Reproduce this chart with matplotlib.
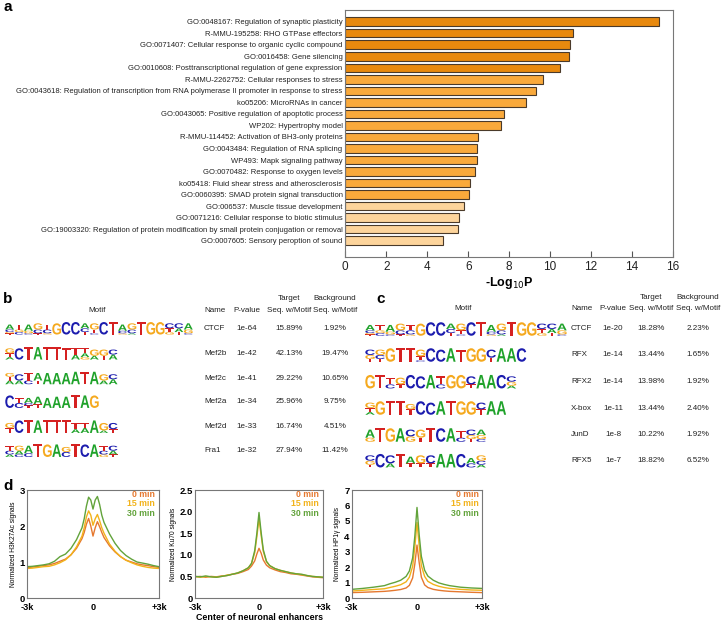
import matplotlib
matplotlib.use('Agg')
import matplotlib.pyplot as plt
from matplotlib.font_manager import FontProperties
from matplotlib.textpath import TextPath
from matplotlib.patches import PathPatch
from matplotlib.transforms import Affine2D

SANS = 'Liberation Sans'

# ---------------- DATA ----------------
# Panel a: enrichment terms
go_terms = [
    "GO:0048167: Regulation of synaptic plasticity",
    "R-MMU-195258: RHO GTPase effectors",
    "GO:0071407: Cellular response to organic cyclic compound",
    "GO:0016458: Gene silencing",
    "GO:0010608: Posttranscriptional regulation of gene expression",
    "R-MMU-2262752: Cellular responses to stress",
    "GO:0043618: Regulation of transcription from RNA polymerase II promoter in response to stress",
    "ko05206: MicroRNAs in cancer",
    "GO:0043065: Positive regulation of apoptotic process",
    "WP202: Hypertrophy model",
    "R-MMU-114452: Activation of BH3-only proteins",
    "GO:0043484: Regulation of RNA splicing",
    "WP493: Mapk signaling pathway",
    "GO:0070482: Response to oxygen levels",
    "ko05418: Fluid shear stress and atherosclerosis",
    "GO:0060395: SMAD protein signal transduction",
    "GO:006537: Muscle tissue development",
    "GO:0071216: Cellular response to biotic stimulus",
    "GO:19003320: Regulation of protein modification by small protein conjugation or removal",
    "GO:0007605: Sensory peroption of sound",
]
neg_log10_p = [15.32, 11.12, 10.98, 10.91, 10.49, 9.66, 9.32, 8.81, 7.77, 7.61,
               6.49, 6.42, 6.42, 6.34, 6.10, 6.04, 5.81, 5.53, 5.51, 4.78]
term_tier = [0] * 5 + [1] * 11 + [2] * 4
a_xticks = [0, 2, 4, 6, 8, 10, 12, 14, 16]

# Panel b: motif table (columns: letters top->bottom with heights in tenths)
b_motifs = [
    ["A4C2G1T1", "T4G2C2", "A5G2C1", "G5C3T1", "T4C3G1", "G9", "C10", "C10", "A4C3T2", "G5T3C1",
     "C10", "T10", "A5C2G1", "G5C3A1", "T10", "G10", "G10", "C4T3G2", "C4A3T2", "A5G3C1"],
    ["G4T3A2", "C9", "T10", "A10", "T10", "T10", "T9", "T5A4", "T4A3G2", "G5A3", "G5T3", "C4A4"],
    ["G3T3A3", "C5A3", "T6C3", "A6T3", "A9", "A9", "A9", "A10", "T10", "A10", "G5A3", "C4A4"],
    ["C10", "T4C4", "A4C2T2", "A6T3", "A8", "A9", "A9", "T10", "A10", "G10"],
    ["G4T4", "C10", "T10", "A10", "T10", "T10", "T10", "T5A3", "T4A4", "A10", "G6A2", "C5T3"],
    ["T4C3A2", "G4A3C2", "A6C3", "T10", "G10", "A10", "G4C4", "T10", "C10", "A10", "T4C3G2", "C4A3T2"],
]
b_names = ["CTCF", "Mef2b", "Mef2c", "Mef2a", "Mef2d", "Fra1"]
b_pvalues = ["1e-64", "1e-42", "1e-41", "1e-34", "1e-33", "1e-32"]
b_target = ["15.89%", "42.13%", "29.22%", "25.96%", "16.74%", "27.94%"]
b_background = ["1.92%", "19.47%", "10.65%", "9.75%", "4.51%", "11.42%"]

# Panel c: motif table
c_motifs = [
    ["A4C2G1T1", "T4G2C2", "A5G2C1", "G5C3T1", "T4C3G1", "G9", "C10", "C10", "A4C3T2", "G5T3C1",
     "C10", "T10", "A5C2G1", "G5C3A1", "T10", "G10", "G10", "C4T3G2", "C4A3T2", "A5G3C1"],
    ["C4G3T2", "G4C3T2", "G10", "T10", "T10", "G5T3C1", "C10", "C9", "A10", "T9", "G10", "G10",
     "C6T3", "A10", "A10", "C10"],
    ["G10", "T10", "T5C3", "G5T3", "C10", "C9", "A10", "T6C3", "G10", "G10", "C6T3", "A10", "A10",
     "C10", "C4G3A2"],
    ["G4T3A2", "G10", "T10", "T10", "G4T4", "C10", "C9", "A10", "T10", "G10", "G10", "C5T4", "A10", "A10"],
    ["A6G3", "T10", "G10", "A10", "C5G4", "G6T3", "T10", "C10", "A10", "T5C3", "C4G3T2", "A4G3C2"],
    ["C4G3T2", "C10", "C6A3", "T10", "A5T3", "G6T3", "C6T3", "A10", "A10", "C10", "A4C3", "G4C3A2"],
]
c_names = ["CTCF", "RFX", "RFX2", "X-box", "JunD", "RFX5"]
c_pvalues = ["1e-20", "1e-14", "1e-14", "1e-11", "1e-8", "1e-7"]
c_target = ["18.28%", "13.44%", "13.98%", "13.44%", "10.22%", "18.82%"]
c_background = ["2.23%", "1.65%", "1.92%", "2.40%", "1.92%", "6.52%"]

# Panel d: aggregate profiles (x in kb from enhancer center)
time_labels = ["0 min", "15 min", "30 min"]

h3_x = [-3, -2.75, -2.5, -2.25, -2, -1.75, -1.5, -1.25, -1, -0.75, -0.5, -0.4, -0.3, -0.2, -0.1, 0,
        0.1, 0.2, 0.3, 0.4, 0.5, 0.75, 1, 1.25, 1.5, 1.75, 2, 2.25, 2.5, 2.75, 3]
h3_0 = [0.84, 0.86, 0.88, 0.90, 0.92, 0.96, 1.02, 1.08, 1.20, 1.38, 1.65, 1.82, 2.05, 2.21, 2.00, 1.72,
        1.95, 2.12, 1.98, 1.82, 1.68, 1.45, 1.28, 1.15, 1.05, 1.00, 0.95, 0.92, 0.90, 0.87, 0.85]
h3_15 = [0.82, 0.83, 0.85, 0.87, 0.88, 0.92, 0.98, 1.06, 1.20, 1.42, 1.72, 1.95, 2.25, 2.42, 2.30, 2.02,
         2.20, 2.32, 2.15, 1.95, 1.80, 1.50, 1.30, 1.15, 1.05, 0.98, 0.92, 0.88, 0.85, 0.83, 0.82]
h3_30 = [0.87, 0.88, 0.90, 0.92, 0.95, 1.02, 1.15, 1.22, 1.38, 1.62, 1.95, 2.20, 2.55, 2.80, 2.72, 2.47,
         2.72, 2.82, 2.60, 2.30, 2.10, 1.78, 1.52, 1.32, 1.18, 1.08, 1.00, 0.97, 0.94, 0.90, 0.87]

ku_x = [-3, -2.75, -2.5, -2.25, -2, -1.75, -1.5, -1.25, -1, -0.75, -0.5, -0.35, -0.2, -0.1, 0,
        0.1, 0.2, 0.35, 0.5, 0.75, 1, 1.25, 1.5, 1.75, 2, 2.25, 2.5, 2.75, 3]
ku_0 = [0.49, 0.50, 0.48, 0.50, 0.49, 0.51, 0.52, 0.55, 0.57, 0.61, 0.66, 0.74, 0.86, 1.02, 1.15,
        1.04, 0.88, 0.76, 0.70, 0.65, 0.61, 0.59, 0.56, 0.55, 0.53, 0.51, 0.49, 0.48, 0.47]
ku_15 = [0.50, 0.48, 0.50, 0.49, 0.48, 0.50, 0.53, 0.55, 0.58, 0.63, 0.70, 0.80, 1.05, 1.42, 1.84,
         1.45, 1.08, 0.84, 0.75, 0.68, 0.64, 0.61, 0.58, 0.56, 0.54, 0.52, 0.50, 0.49, 0.48]
ku_30 = [0.50, 0.49, 0.51, 0.49, 0.48, 0.50, 0.52, 0.55, 0.58, 0.63, 0.70, 0.80, 1.10, 1.50, 1.98,
         1.52, 1.12, 0.85, 0.75, 0.68, 0.64, 0.61, 0.58, 0.56, 0.55, 0.52, 0.50, 0.49, 0.48]

hp_x = [-3, -2.5, -2, -1.5, -1.25, -1, -0.75, -0.5, -0.35, -0.2, -0.1, 0, 0.1, 0.2, 0.35, 0.5, 0.75,
        1, 1.25, 1.5, 2, 2.5, 3]
hp_0 = [0.35, 0.37, 0.40, 0.43, 0.46, 0.50, 0.55, 0.65, 0.82, 1.30, 2.20, 3.43, 2.30, 1.35, 0.85, 0.68,
        0.56, 0.50, 0.46, 0.43, 0.40, 0.37, 0.35]
hp_15 = [0.45, 0.50, 0.55, 0.60, 0.68, 0.76, 0.86, 1.05, 1.35, 2.05, 3.30, 4.90, 3.40, 2.10, 1.40, 1.08,
         0.88, 0.76, 0.68, 0.62, 0.56, 0.52, 0.50]
hp_30 = [0.56, 0.62, 0.70, 0.80, 0.92, 1.02, 1.15, 1.40, 1.75, 2.60, 4.00, 5.87, 4.10, 2.70, 1.80, 1.42,
         1.15, 0.98, 0.88, 0.80, 0.70, 0.65, 0.62]

# ---------------- STYLE ----------------
W, H = 721, 621
tier_colors = ['#E8890E', '#F9A93B', '#FDD49B']
bar_edge = '#4a3a2a'
time_colors = ['#E5782F', '#F2B31B', '#62A33B']
letter_colors = {'A': '#1FA22A', 'C': '#1C1CAE', 'G': '#F5A91E', 'T': '#D52121'}
text_color = '#222222'

fig = plt.figure(figsize=(W / 100, H / 100), dpi=100)
renderer = fig.canvas.get_renderer()


def fit_size(s, target_px, weight='normal'):
    t = fig.text(0, 0, s, fontsize=10, family=SANS, fontweight=weight)
    w = t.get_window_extent(renderer).width
    t.remove()
    return 10.0 * target_px / w


def fig_rect(left, top, right, bottom):
    return [left / W, 1 - bottom / H, (right - left) / W, (bottom - top) / H]


# ---------------- Panel a ----------------
label_fs = fit_size(max(go_terms, key=len), 328)
axa = fig.add_axes(fig_rect(345.3, 10, 673, 257))
ypos = list(range(len(go_terms)))
axa.barh(ypos, neg_log10_p, height=0.74, color=[tier_colors[t] for t in term_tier],
         edgecolor=bar_edge, linewidth=0.8)
axa.set_xlim(0, 16)
axa.set_ylim(len(go_terms) - 1 + 1.41, -1.01)
axa.set_yticks(ypos)
axa.set_yticklabels(go_terms, fontsize=label_fs, family=SANS, color=text_color)
axa.tick_params(axis='y', length=0, pad=2)
axa.set_xticks(a_xticks)
axa.set_xticklabels([str(v) for v in a_xticks], fontsize=8.5, family=SANS, color=text_color)
axa.tick_params(axis='x', direction='in', length=4, width=0.8, color='#555555', pad=3)
for s in axa.spines.values():
    s.set_color('#777777')
    s.set_linewidth(0.8)
axa.set_xlabel('-Log$_{10}$P', fontsize=9, fontweight='bold', family=SANS, labelpad=1)

# ---------------- overlay for tables ----------------
ov = fig.add_axes([0, 0, 1, 1])
ov.set_xlim(0, W)
ov.set_ylim(H, 0)
ov.axis('off')
ov.patch.set_alpha(0)

logo_font = FontProperties(family=SANS, weight='bold')
_glyphs = {}


def glyph(ch):
    if ch not in _glyphs:
        tp = TextPath((0, 0), ch, size=1, prop=logo_font)
        _glyphs[ch] = (tp, tp.get_extents())
    return _glyphs[ch]


def parse_col(spec):
    out = []
    i = 0
    while i < len(spec):
        ch = spec[i]
        j = i + 1
        while j < len(spec) and spec[j].isdigit():
            j += 1
        out.append((ch, int(spec[i + 1:j]) / 10.0))
        i = j
    return out


def draw_logo(ax, cols, x0, ybase, colw, full_h):
    for k, spec in enumerate(cols):
        yb = ybase
        for ch, h in parse_col(spec)[::-1]:
            hh = h * full_h
            tp, ext = glyph(ch)
            tr = (Affine2D().translate(-ext.x0, -ext.y0)
                  .scale(colw * 0.94 / ext.width, -hh / ext.height)
                  .translate(x0 + k * colw + colw * 0.03, yb))
            ax.add_patch(PathPatch(tr.transform_path(tp), facecolor=letter_colors[ch],
                                   edgecolor='none'))
            yb -= hh


table_fs = fit_size('Seq. w/Motif', 44)


def draw_table(ax, motifs, names, pvals, targ, back, logo_x, colw, full_h, rows_y,
               name_x, p_x, t_x, b_x, motif_hx, hy1, hy2):
    kw = dict(family=SANS, fontsize=table_fs, color=text_color, va='center')
    ax.text(motif_hx, hy2, 'Motif', ha='center', **kw)
    ax.text(name_x, hy2, 'Name', ha='left', **kw)
    ax.text(p_x, hy2, 'P-value', ha='center', **kw)
    ax.text(t_x, hy1, 'Target', ha='center', **kw)
    ax.text(t_x, hy2, 'Seq. w/Motif', ha='center', **kw)
    ax.text(b_x, hy1, 'Background', ha='center', **kw)
    ax.text(b_x, hy2, 'Seq. w/Motif', ha='center', **kw)
    for i, y in enumerate(rows_y):
        draw_logo(ax, motifs[i], logo_x, y + full_h / 2, colw, full_h)
        ax.text(name_x, y, names[i], ha='left', **kw)
        ax.text(p_x, y, pvals[i], ha='center', **kw)
        ax.text(t_x, y, targ[i], ha='center', **kw)
        ax.text(b_x, y, back[i], ha='center', **kw)


draw_table(ov, b_motifs, b_names, b_pvalues, b_target, b_background,
           logo_x=5, colw=9.4, full_h=12.5,
           rows_y=[328.3, 353.3, 378, 401.7, 426.7, 450.7],
           name_x=204, p_x=247, t_x=289, b_x=335, motif_hx=97, hy1=299, hy2=310)
draw_table(ov, c_motifs, c_names, c_pvalues, c_target, c_background,
           logo_x=365, colw=10.1, full_h=13.5,
           rows_y=[329, 355, 381.7, 408, 435, 460.7],
           name_x=571, p_x=613, t_x=651, b_x=698, motif_hx=463, hy1=297.5, hy2=308)

# panel letters
for lab, x, y in [('a', 3, 7), ('b', 3, 299), ('c', 376, 299), ('d', 3, 486)]:
    ov.text(x, y, lab, fontsize=11, fontweight='bold', family=SANS, ha='left', va='center')

# ---------------- Panel d ----------------
ylab_fs = fit_size('Normalized H3K27Ac signals', 87)
profiles = [
    (fig_rect(27, 490, 159, 598), h3_x, [h3_0, h3_15, h3_30], (0, 3), [0, 1, 2, 3],
     ['0', '1', '2', '3'], 'Normalized H3K27Ac signals'),
    (fig_rect(195, 490, 323, 598), ku_x, [ku_0, ku_15, ku_30], (0, 2.5), [0, 0.5, 1.0, 1.5, 2.0, 2.5],
     ['0', '0.5', '1.0', '1.5', '2.0', '2.5'], 'Normalized Ku70 signals'),
    (fig_rect(351.7, 490, 482.3, 598), hp_x, [hp_0, hp_15, hp_30], (0, 7), list(range(8)),
     [str(v) for v in range(8)], 'Normalized HP1\u03b3 signals'),
]
d_axes = []
for rect, xs, series, ylim, yt, ytl, ylab in profiles:
    ax = fig.add_axes(rect)
    for ys, col in zip(series, time_colors):
        ax.plot(xs, ys, color=col, linewidth=1.0)
    ax.set_xlim(-3, 3)
    ax.set_ylim(*ylim)
    ax.set_xticks([-3, 0, 3])
    ax.set_xticklabels(['-3k', '0', '+3k'], fontsize=6.6, fontweight='bold', family=SANS)
    ax.set_yticks(yt)
    ax.set_yticklabels(ytl, fontsize=6.8, fontweight='bold', family=SANS)
    ax.tick_params(axis='x', length=0, pad=3.8)
    ax.tick_params(axis='y', length=0, pad=1.5)
    for s in ax.spines.values():
        s.set_color('#777777')
        s.set_linewidth(0.8)
    ax.set_ylabel(ylab, fontsize=ylab_fs, family=SANS, labelpad=2)
    for k, (lab, col) in enumerate(zip(time_labels, time_colors)):
        ax.text(0.97, 0.956 - k * 0.085, lab, transform=ax.transAxes, ha='right', va='center',
                color=col, fontsize=6.3, fontweight='bold', family=SANS)
    d_axes.append(ax)

d_axes[1].set_xlabel('Center of neuronal enhancers',
                     fontsize=fit_size('Center of neuronal enhancers', 126, 'bold'),
                     fontweight='bold', family=SANS, labelpad=0.3)

fig.savefig('out.png', dpi=100)
